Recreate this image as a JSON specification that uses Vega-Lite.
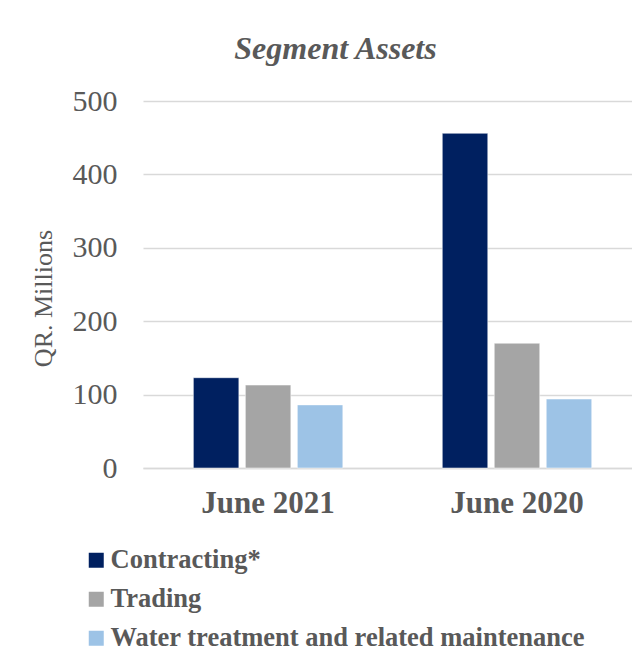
{
  "$schema": "https://vega.github.io/schema/vega-lite/v6.json",
  "width": 489,
  "height": 367,
  "autosize": {"type": "none"},
  "padding": {"left": 143, "top": 101, "right": 0, "bottom": 179},
  "background": "white",
  "title": {
    "text": "Segment Assets",
    "font": "Liberation Serif",
    "fontSize": 32,
    "fontWeight": "bold",
    "fontStyle": "italic",
    "color": "#595959",
    "anchor": "middle",
    "baseline": "alphabetic",
    "offset": 36,
    "dx": -52,
    "dy": 41
  },
  "data": {
    "values": [
      {"period": "June 2021", "segment": "Contracting*", "value": 123},
      {"period": "June 2021", "segment": "Trading", "value": 113},
      {"period": "June 2021", "segment": "Water treatment and related maintenance", "value": 86},
      {"period": "June 2020", "segment": "Contracting*", "value": 456},
      {"period": "June 2020", "segment": "Trading", "value": 170},
      {"period": "June 2020", "segment": "Water treatment and related maintenance", "value": 94}
    ]
  },
  "mark": {"type": "bar", "stroke": "#ffffff", "strokeWidth": 0.5},
  "encoding": {
    "x": {
      "field": "period",
      "type": "nominal",
      "sort": ["June 2021", "June 2020"],
      "scale": {"paddingInner": 0.3735, "paddingOuter": 0.169, "align": 0.56},
      "axis": {
        "title": null,
        "labelAngle": 0,
        "labelFont": "Liberation Serif",
        "labelFontSize": 31,
        "labelFontWeight": "bold",
        "labelColor": "#595959",
        "labelPadding": 20,
        "ticks": false,
        "domainColor": "#d9d9d9",
        "domainWidth": 1.5
      }
    },
    "xOffset": {
      "field": "segment",
      "type": "nominal",
      "sort": ["Contracting*", "Trading", "Water treatment and related maintenance"],
      "scale": {"paddingInner": 0.125, "paddingOuter": 0.0625}
    },
    "y": {
      "field": "value",
      "type": "quantitative",
      "scale": {"domain": [0, 500]},
      "axis": {
        "title": "QR. Millions",
        "titleFont": "Liberation Serif",
        "titleFontSize": 26,
        "titleFontWeight": "normal",
        "titleColor": "#595959",
        "titlePadding": 16,
        "titleY": 197,
        "values": [0, 100, 200, 300, 400, 500],
        "labelFont": "Liberation Serif",
        "labelFontSize": 30,
        "labelColor": "#595959",
        "labelPadding": 26,
        "ticks": false,
        "domain": false,
        "gridColor": "#d9d9d9",
        "gridWidth": 1.5
      }
    },
    "color": {
      "field": "segment",
      "type": "nominal",
      "sort": ["Contracting*", "Trading", "Water treatment and related maintenance"],
      "scale": {
        "domain": ["Contracting*", "Trading", "Water treatment and related maintenance"],
        "range": ["#002060", "#a5a5a5", "#9dc3e6"]
      },
      "legend": {
        "title": null,
        "orient": "none",
        "direction": "vertical",
        "legendX": -60,
        "legendY": 446,
        "symbolType": "square",
        "symbolSize": 225,
        "symbolStrokeWidth": 0,
        "labelFont": "Liberation Serif",
        "labelFontSize": 26.5,
        "labelFontWeight": "bold",
        "labelColor": "#595959",
        "labelOffset": 1,
        "labelLimit": 600,
        "rowPadding": 12
      }
    }
  },
  "config": {"view": {"stroke": null}}
}
